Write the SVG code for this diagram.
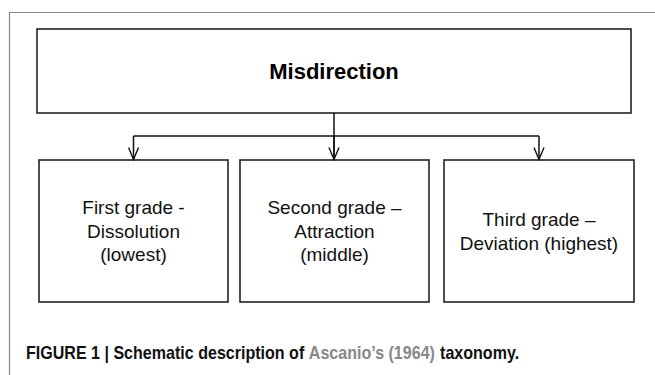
<svg xmlns="http://www.w3.org/2000/svg" width="655" height="375" viewBox="0 0 655 375">
<style>
.box{fill:#fff;stroke:#222;stroke-width:1.6}
.lbl{font-family:"Liberation Sans",Arial,sans-serif;font-size:19px;fill:#111;text-anchor:middle}
.title{font-family:"Liberation Sans",Arial,sans-serif;font-size:22px;font-weight:bold;fill:#000;text-anchor:middle}
.cap{font-family:"Liberation Sans",Arial,sans-serif;font-size:18px;font-weight:bold;fill:#111}
.cite{fill:#888}
.conn{fill:none;stroke:#111;stroke-width:1.5}
</style>
<defs>
<marker id="arr" viewBox="0 0 14 12" refX="13" refY="6" markerWidth="14" markerHeight="12" markerUnits="userSpaceOnUse" orient="auto">
<path d="M1,1 L13,6 L1,11" fill="none" stroke="#111" stroke-width="1.4"/>
</marker>
</defs>
<rect width="655" height="375" fill="#fff"/>
<path d="M9.5,375 V12.5 H655" fill="none" stroke="#888" stroke-width="1.2"/>
<g id="misdirection">
<rect class="box" x="37" y="29" width="594" height="84"/>
<text class="title" x="334" y="79">Misdirection</text>
</g>
<g id="first">
<rect class="box" x="39" y="160" width="189" height="142"/>
<text class="lbl" x="133.5" y="214">First grade -</text>
<text class="lbl" x="133.5" y="238">Dissolution</text>
<text class="lbl" x="133.5" y="261">(lowest)</text>
</g>
<g id="second">
<rect class="box" x="240" y="160" width="189" height="142"/>
<text class="lbl" x="334.5" y="214">Second grade –</text>
<text class="lbl" x="334.5" y="238">Attraction</text>
<text class="lbl" x="334.5" y="261">(middle)</text>
</g>
<g id="third">
<rect class="box" x="444" y="160" width="190" height="142"/>
<text class="lbl" x="539" y="226">Third grade –</text>
<text class="lbl" x="539" y="250">Deviation (highest)</text>
</g>
<g id="connectors">
<path class="conn" d="M334,113 V159.5"/>
<path class="conn" d="M133.5,136 H539"/>
<path class="conn" d="M133.5,136 V159.5" marker-end="url(#arr)"/>
<path class="conn" d="M334,136 V159.5" marker-end="url(#arr)"/>
<path class="conn" d="M539,136 V159.5" marker-end="url(#arr)"/>
</g>
<g id="caption" transform="translate(26,359) scale(0.892,1)">
<text class="cap" x="0" y="0">FIGURE 1 | Schematic description of</text>
<text class="cap cite" x="317.1" y="0">Ascanio’s (1964)</text>
<text class="cap" x="464.2" y="0">taxonomy.</text>
</g>
</svg>
